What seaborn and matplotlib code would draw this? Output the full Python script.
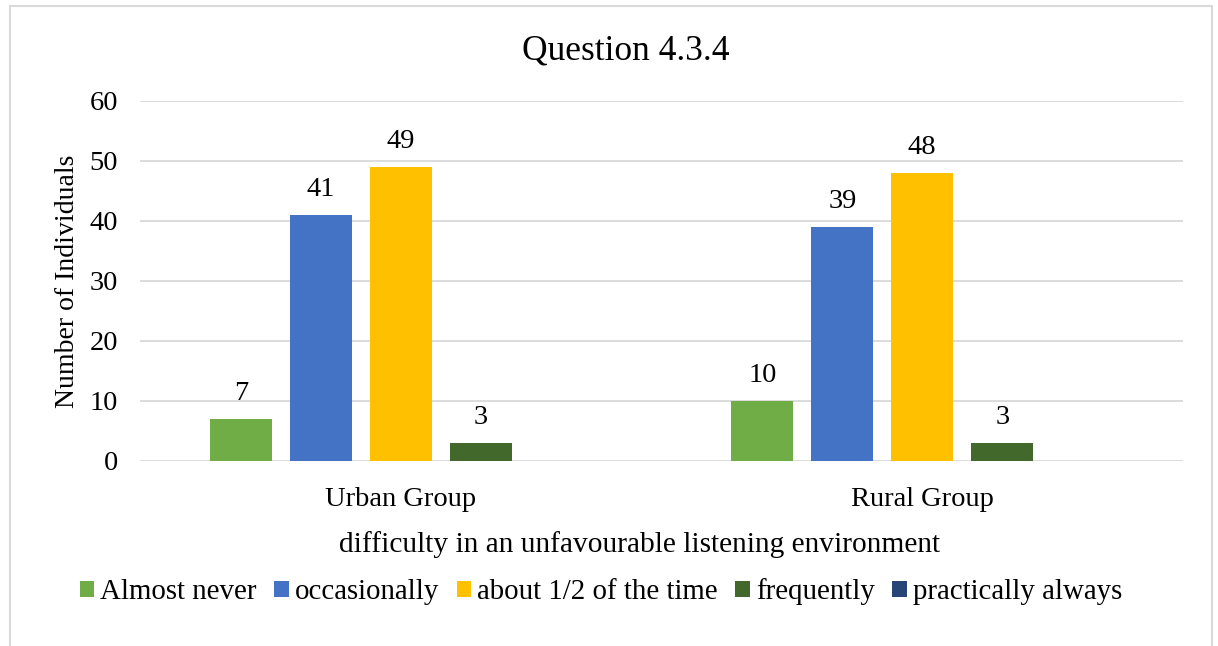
import numpy as np
import pandas as pd
import matplotlib
matplotlib.use("Agg")
import matplotlib.pyplot as plt
from matplotlib.patches import Rectangle
import seaborn as sns

groups = ["Urban Group", "Rural Group"]
responses = ["Almost never", "occasionally", "about 1/2 of the time",
             "frequently", "practically always"]
almost_never = [7, 10]
occasionally = [41, 39]
about_half = [49, 48]
frequently = [3, 3]
practically_always = [0, 0]

colors = ["#70AD47", "#4472C4", "#FFC000", "#43682B", "#264478"]

series = [almost_never, occasionally, about_half, frequently, practically_always]
rows = []
for resp, vals in zip(responses, series):
    for g, v in zip(groups, vals):
        rows.append({"group": g, "response": resp, "count": v})
df = pd.DataFrame(rows)

sns.set_theme(style="white")
plt.rcParams["font.family"] = ["Liberation Serif", "DejaVu Serif"]
plt.rcParams["text.color"] = "#000000"

W, H = 1218, 646
fig = plt.figure(figsize=(W / 100, H / 100), dpi=100)
ax = fig.add_axes([140 / W, 1 - 461 / H, (1183 - 140) / W, (461 - 101) / H])

sns.barplot(data=df, x="group", y="count", hue="response",
            order=groups, hue_order=responses, palette=colors, saturation=1,
            width=0.767, gap=0.225, linewidth=0, ax=ax, legend=True)

for cont in ax.containers:
    labels = [f"{int(b.get_height())}" if b.get_height() > 0 else "" for b in cont]
    ax.bar_label(cont, labels=labels, padding=9, fontsize=20.5, color="#000000")

ax.set_ylim(0, 60)
ax.set_yticks(np.arange(0, 61, 10))
ax.set_xlim(-0.5, 1.5)
ax.grid(axis="y", color="#D9D9D9", linewidth=1.3)
ax.grid(axis="x", visible=False)
ax.set_axisbelow(True)
for s in ax.spines.values():
    s.set_visible(False)
ax.tick_params(axis="both", length=0, labelsize=20.5, colors="#000000")
ax.tick_params(axis="y", pad=16)
ax.tick_params(axis="x", pad=19)

ax.set_ylabel("Number of Individuals", fontsize=20, color="#000000", labelpad=7)
ax.set_xlabel("")
fig.text(640 / W, 1 - 545 / H, "difficulty in an unfavourable listening environment",
         ha="center", va="center", fontsize=21.2, color="#000000")
fig.text(626 / W, 1 - 51 / H, "Question 4.3.4", ha="center", va="center",
         fontsize=25.5, color="#000000")

handles, labels = ax.get_legend_handles_labels()
ax.legend(handles, labels, loc="center", bbox_to_anchor=(601 / W, 1 - 592 / H),
          bbox_transform=fig.transFigure, ncol=5, frameon=False,
          fontsize=20.8, handlelength=0.5, handleheight=0.5,
          handletextpad=0.22, columnspacing=0.6, borderpad=0,
          labelcolor="#000000")

# chart frame
fig.patches.append(Rectangle((10 / W, -0.05), (1212 - 10) / W, 1 - 6 / H + 0.05,
                             transform=fig.transFigure, fill=False,
                             edgecolor="#D9D9D9", linewidth=1.5))

fig.savefig("out.png", dpi=100, facecolor="white")
